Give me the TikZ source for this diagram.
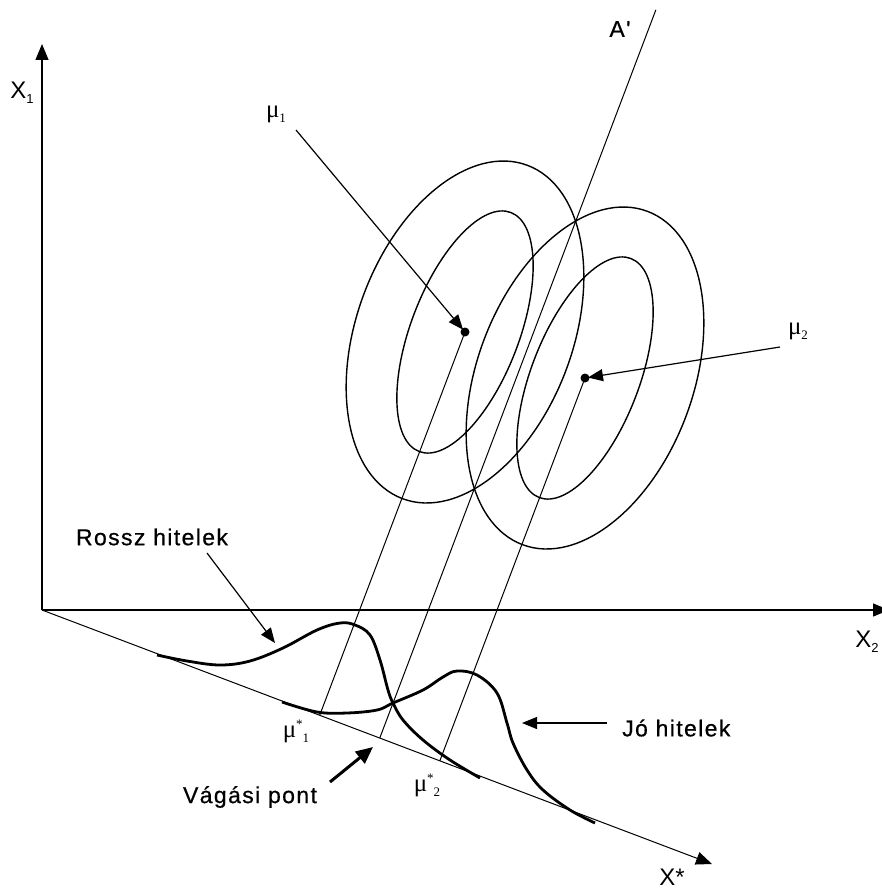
\documentclass[tikz,border=0pt]{standalone}
\usepackage{fontspec}
\setmainfont{Liberation Sans}
\newfontfamily\greekfont{Liberation Serif}
\newfontfamily\labelfont[LetterSpace=6,FakeBold=0.6]{Liberation Sans}
\usepackage{tikz}
\usetikzlibrary{arrows.meta,calc}

\newcommand{\subidx}[1]{{\fontsize{13}{13}\selectfont\raisebox{-5pt}{#1}}}
\newcommand{\supidx}[1]{{\fontsize{13}{13}\selectfont\raisebox{9pt}{#1}}}

\begin{document}
\begin{tikzpicture}[x=1pt,y=-1pt,
  axis/.style={line width=1.4pt,-{Triangle[length=16pt,width=13pt]}},
  proj/.style={line width=1pt},
  contour/.style={line width=1.4pt},
  density/.style={line width=2.8pt,line join=round},
  pointer/.style={line width=1.2pt,-{Triangle[length=15pt,width=12pt]}},
  bigpointer/.style={line width=3pt,-{Triangle[length=17pt,width=15pt]}},
  lbl/.style={font=\fontsize{24}{28}\selectfont,inner sep=0pt},
  txt/.style={font=\labelfont\fontsize{23}{28}\selectfont,inner sep=0pt},
  mulbl/.style={font=\greekfont\fontsize{25}{28}\selectfont,inner sep=0pt}]

\useasboundingbox (0,0) rectangle (881,891);

% axes
\coordinate (O) at (42,610);
\coordinate (X1end) at (42,44);
\coordinate (X2end) at (889,610);
\coordinate (Xsend) at (712,864);
\draw[axis] (O) -- (X1end);
\draw[axis] (O) -- (X2end);
\draw[proj,-{Triangle[length=16pt,width=13pt]}] (O) -- (Xsend);
\node[lbl] (X1) at (22,93) {X\subidx{1}};
\node[lbl] (X2) at (867,642) {X\subidx{2}};
\node[lbl] (Xs) at (672,877) {X*};

% group means and projections
\coordinate (mu1) at (465,332);
\coordinate (mu2) at (585,378);
\coordinate (f1) at ($(O)!(mu1)!(Xsend)$);
\coordinate (f2) at ($(O)!(mu2)!(Xsend)$);
\coordinate (cut) at ($(f1)!0.5!(f2)$);
\coordinate (Atop) at ($(cut)+1.9*(mu1)-1.9*(f1)$);

\draw[contour,rotate around={69:(mu1)}] (mu1) ellipse [x radius=128, y radius=54];
\draw[contour,rotate around={69.5:(mu1)}] (mu1) ellipse [x radius=178, y radius=108];
\draw[contour,rotate around={69:(mu2)}] (mu2) ellipse [x radius=128, y radius=54];
\draw[contour,rotate around={69.5:(mu2)}] (mu2) ellipse [x radius=178, y radius=108];

\draw[proj] (mu1) -- (f1);
\draw[proj] (mu2) -- (f2);
\draw[proj] (cut) -- (Atop);
\node[txt] (Alab) at (620,29) {A'};

\fill (mu1) circle [radius=4.5];
\fill (mu2) circle [radius=4.5];

% densities
\draw[density] plot[smooth,tension=0.6] coordinates {(157,655) (187,661) (220,665) (250,661) (283,648) (317,630) (340,623) (355,625) (370,635) (380,660) (388,690) (393,703) (403,720) (423,740) (450,760) (480,778)};
\draw[density] plot[smooth,tension=0.6] coordinates {(282,702) (317,712) (347,713) (377,710) (393,703) (423,690) (443,677) (457,671) (477,675) (497,693) (507,723) (513,743) (527,770) (543,790) (570,810) (595,823)};

% labels
\node[mulbl] (mu1lbl) at (276,114) {μ\subidx{1}};
\coordinate (mu1tail) at (296,130);
\draw[pointer,shorten >=3pt] (mu1tail) -- (mu1);
\node[mulbl] (mu2lbl) at (798,331) {μ\subidx{2}};
\coordinate (mu2tail) at (780,347);
\draw[pointer,shorten >=3pt] (mu2tail) -- (mu2);

\node[txt] (bad) at (152,537) {Rossz hitelek};
\coordinate (badtail) at (207,553);
\coordinate (badtip) at (275,643);
\draw[pointer] (badtail) -- (badtip);
\node[txt,anchor=west] (good) at (622,728) {Jó hitelek};
\coordinate (goodtail) at (607,723);
\coordinate (goodtip) at (522,723);
\draw[pointer] (goodtail) -- (goodtip);
\node[txt] (vag) at (250,797) {Vágási pont};
\coordinate (vagtail) at (330,782);
\coordinate (vagtip) at (373,747);
\draw[bigpointer] (vagtail) -- (vagtip);

\node[mulbl] (ms1) at (296,731) {μ\supidx{*}\subidx{1}};
\node[mulbl] (ms2) at (427,785) {μ\supidx{*}\subidx{2}};
\end{tikzpicture}
\end{document}
